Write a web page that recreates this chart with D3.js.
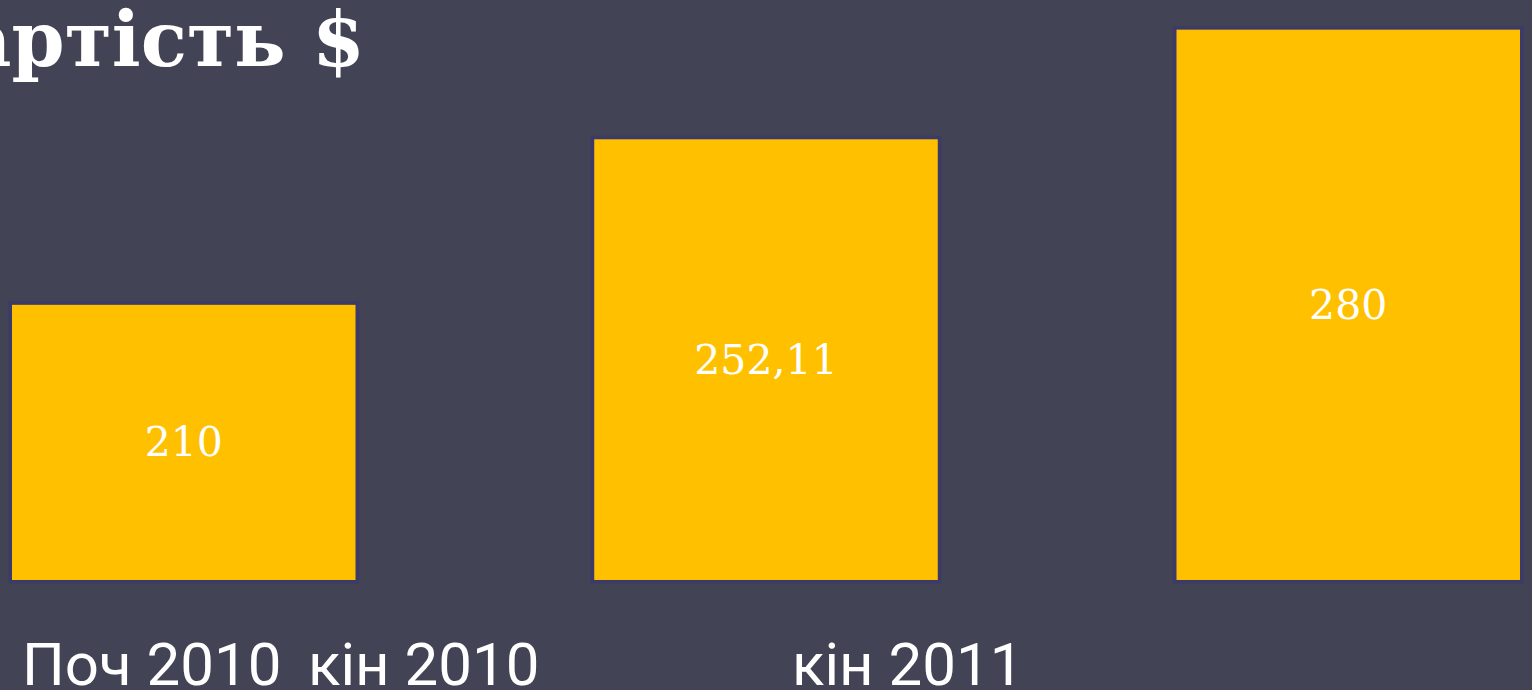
<!DOCTYPE html>
<html>
<head>
<meta charset="utf-8">
<script src="https://cdn.jsdelivr.net/npm/d3@7"></script>
<style>
  html, body { margin: 0; padding: 0; background: #434356; overflow: hidden; }
</style>
</head>
<body>
<svg id="chart"></svg>
<script>
var width = 1532;
var height = 690;

var categories = ["Поч 2010", "кін 2010", "кін 2011"];
var values = [210, 252.11, 280];
var valueLabels = ["210", "252,11", "280"];
var title = "Вартість $";

var svg = d3.select("#chart")
  .attr("width", width)
  .attr("height", height);

svg.append("rect")
  .attr("width", width)
  .attr("height", height)
  .attr("fill", "#434356");

// bars sit on one baseline, the scale does not start at zero
var x = d3.scaleBand()
  .domain(categories)
  .range([12, 1520])
  .paddingInner(0.41)
  .paddingOuter(0);

var y = d3.scaleLinear()
  .domain([140, 285])
  .range([580, 10]);

svg.append("text")
  .attr("x", 365)
  .attr("y", 66)
  .attr("text-anchor", "end")
  .attr("font-family", "Georgia, 'DejaVu Serif', serif")
  .attr("font-weight", "bold")
  .attr("font-size", 76)
  .attr("fill", "#ffffff")
  .text(title);

var bars = svg.append("g");

bars.selectAll("rect")
  .data(values)
  .enter()
  .append("rect")
  .attr("x", function(d, i) { return x(categories[i]); })
  .attr("y", function(d) { return y(d); })
  .attr("width", x.bandwidth())
  .attr("height", function(d) { return y(y.domain()[0]) - y(d); })
  .attr("fill", "#ffc000")
  .attr("stroke", "#3c3a68")
  .attr("stroke-width", 7)
  .attr("paint-order", "stroke");

bars.selectAll("text")
  .data(values)
  .enter()
  .append("text")
  .attr("x", function(d, i) { return x(categories[i]) + x.bandwidth() / 2; })
  .attr("y", function(d) { return (y(d) + y(y.domain()[0])) / 2; })
  .attr("text-anchor", "middle")
  .attr("dominant-baseline", "central")
  .attr("font-family", "Georgia, 'DejaVu Serif', serif")
  .attr("font-size", 41)
  .attr("fill", "#ffffff")
  .text(function(d, i) { return valueLabels[i]; });

// category captions sit loosely under the bars, as on the slide
var captionX = [22, 308, 792];
svg.append("g")
  .selectAll("text")
  .data(categories)
  .enter()
  .append("text")
  .attr("x", function(d, i) { return captionX[i]; })
  .attr("y", 685)
  .attr("font-family", "Roboto, 'Open Sans', sans-serif")
  .attr("font-size", 60)
  .attr("fill", "#ffffff")
  .text(function(d) { return d; });
</script>
</body>
</html>
